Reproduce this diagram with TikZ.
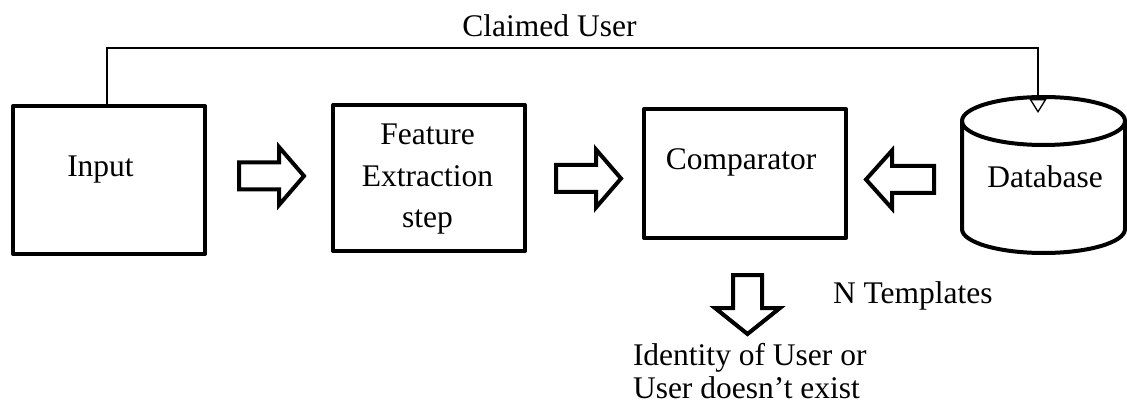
\documentclass[tikz,border=0pt]{standalone}
\usepackage{fontspec}
\setmainfont{Liberation Serif}
\usetikzlibrary{arrows.meta}

\begin{document}
\begin{tikzpicture}[x=1pt, y=-1pt,
  every node/.style={inner sep=0pt, outer sep=0pt},
  label/.style={font=\fontsize{31.5}{41.5}\selectfont},
  box/.style={draw, line width=4pt, line join=round},
  arrowbox/.style={draw, line width=4pt, line join=miter, fill=white},
  conn/.style={line width=1.3pt},
  pics/blockarrow/.style args={#1/#2}{code={
    \draw[arrowbox] (0,-13.5) -- (#2,-13.5) -- (#2,-29) -- (#1,0)
      -- (#2,29) -- (#2,13.5) -- (0,13.5) -- cycle;}},
  pics/downarrow/.style args={#1/#2}{code={
    \draw[arrowbox] (0,-14.5) -- (#2,-14.5) -- (#2,-32.5) -- (#1,0)
      -- (#2,32.5) -- (#2,14.5) -- (0,14.5) -- cycle;}}
]
\useasboundingbox (0,0) rectangle (1127,406);

% processing blocks
\node[box, minimum width=192pt, minimum height=148pt] (input) at (109,180) {};
\node[label, anchor=base] (inputtxt) at (100.5,177) {Input};

\node[box, minimum width=192pt, minimum height=146pt] (feat) at (429,178) {};
\node[label, align=center] (feattxt) at (427.5,179.5) {Feature\\Extraction\\step};

\node[box, minimum width=202pt, minimum height=129pt] (comp) at (745,173.5) {};
\node[label, anchor=base] (comptxt) at (741,170) {Comparator};

% database cylinder
\draw[box] (962,121) -- (962,229)
  arc[start angle=180, end angle=0, x radius=81.5, y radius=24] -- (1125,121);
\draw[box] (1043.5,121) ellipse [x radius=81.5, y radius=24];
\node[minimum width=163pt, minimum height=158pt] (db) at (1043.5,175) {};
\node[label, anchor=base] (dbtxt) at (1045,188) {Database};

% block arrows between the stages
\pic at (239,176) {blockarrow=65/40};
\pic at (556,178.5) {blockarrow=65/40};
\pic[rotate=180] at (934,179.5) {blockarrow=68/42};
\pic[rotate=-90] at (747.5,275) {downarrow=59/33};

% claimed user line into the database
\coordinate (dbin) at (1038,113);
\draw[conn, -{Triangle[length=14pt, width=17pt, open, fill=white, line width=1.3pt]}]
  ([xshift=-2pt]input.north) -- ++(0,-58) -| (dbin);
\node[label, anchor=base] (claim) at (549.5,36.5) {Claimed User};

% outputs
\node[label, anchor=base west] (ntpl) at (833,303) {N Templates};
\node[font=\fontsize{31.5}{33}\selectfont, align=left, anchor=west] (result)
  at (633,370.75) {Identity of User or\\User doesn’t exist};
\end{tikzpicture}
\end{document}
